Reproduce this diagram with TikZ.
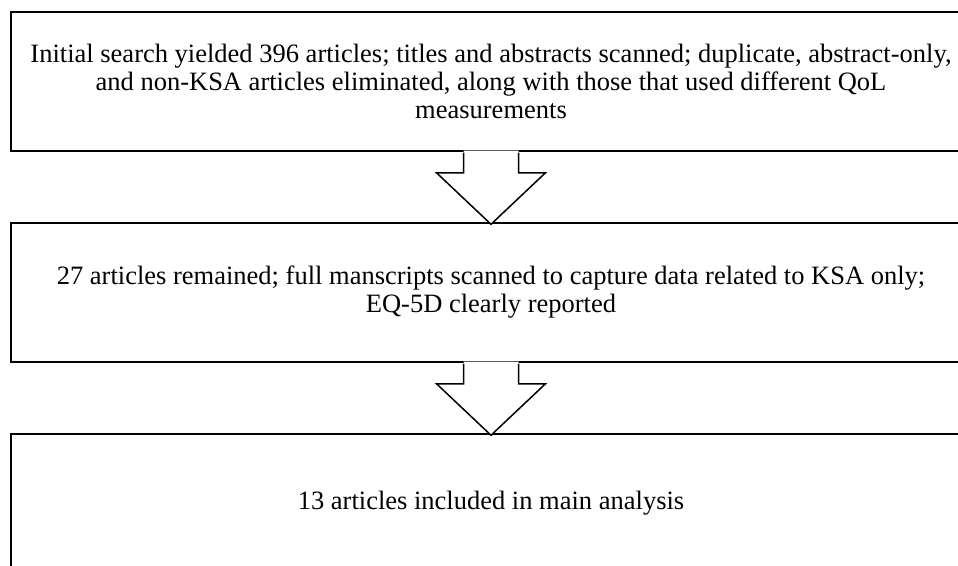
\documentclass[tikz,border=0pt]{standalone}
\usepackage{fontspec}
\setmainfont{Liberation Serif}
\usetikzlibrary{calc}
\tikzset{
  box/.style={draw=black, line width=1.5pt, fill=white, minimum width=960pt, minimum height=139pt,
    inner sep=0pt, align=center, font=\fontsize{26.5pt}{28pt}\selectfont},
  arrowline/.style={draw=black, line width=1.5pt, line join=miter},
}
\begin{document}
\begin{tikzpicture}[x=1pt,y=-1pt]
\useasboundingbox (0,0) rectangle (958,565);
\fill[white] (0,0) rectangle (958,565);
\clip (0,0) rectangle (958,565);
\node[box] (b1) at (491,81.5) {Initial search yielded 396 articles; titles and abstracts scanned; duplicate, abstract-only,\\and non-KSA articles eliminated, along with those that used different QoL\\measurements};
\node[box] (b2) at (491,292.5) {27 articles remained; full manscripts scanned to capture data related to KSA only;\\EQ-5D clearly reported};
\node[box] (b3) at (491,503.5) {13 articles included in main analysis};
\foreach \a/\b in {b1/b2,b2/b3} {
  \fill[white] ($(\a.south)+(-27.5,-1.2)$) -- ($(\a.south)+(-27.5,21)$) -- ($(\a.south)+(-54.5,21)$)
    -- ($(\b.north)+(0,2)$) -- ($(\a.south)+(54.5,21)$) -- ($(\a.south)+(27.5,21)$)
    -- ($(\a.south)+(27.5,-1.2)$) -- cycle;
  \draw[arrowline] ($(\a.south)+(-27.5,0.75)$) -- ($(\a.south)+(-27.5,21)$) -- ($(\a.south)+(-54.5,21)$)
    -- ($(\b.north)+(0,2)$) -- ($(\a.south)+(54.5,21)$) -- ($(\a.south)+(27.5,21)$)
    -- ($(\a.south)+(27.5,0.75)$);
}
\end{tikzpicture}
\end{document}
